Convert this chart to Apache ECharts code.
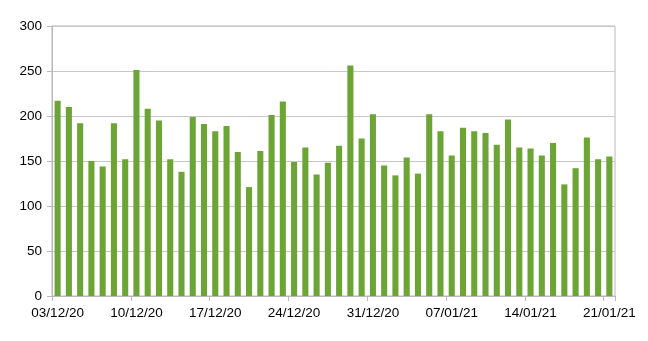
<!DOCTYPE html>
<html>
<head>
<meta charset="utf-8">
<script src="https://cdn.jsdelivr.net/npm/echarts@6/dist/echarts.min.js"></script>
<style>html,body{margin:0;padding:0;background:#fff}#c{width:648px;height:341px}</style>
</head>
<body>
<div id="c"></div>
<script>
const dates = (function(){
  const out = [];
  const d = new Date(Date.UTC(2020, 11, 3));
  for (let i = 0; i < 50; i++) {
    const dd = String(d.getUTCDate()).padStart(2,'0');
    const mm = String(d.getUTCMonth()+1).padStart(2,'0');
    const yy = String(d.getUTCFullYear()).slice(2);
    out.push(dd + '/' + mm + '/' + yy);
    d.setUTCDate(d.getUTCDate()+1);
  }
  return out;
})();
const values = [217,210,192,150,144,192,152,251,208,195,
                152,138,199,191,183,189,160,121,161,201,
                216,149,165,135,148,167,256,175,202,145,
                134,154,136,202,183,156,187,183,181,168,
                196,165,164,156,170,124,142,176,152,155];
const yTicks = [0,50,100,150,200,250,300];

const chart = echarts.init(document.getElementById('c'), null, {renderer:'canvas'});
chart.setOption({
  animation: false,
  grid: {left: 52, right: 33, top: 26, bottom: 45, show: true, borderColor: '#b8b8b8', borderWidth: 1},
  xAxis: {
    type: 'category',
    data: dates,
    boundaryGap: true,
    axisLine: {lineStyle: {color: '#b8b8b8', width: 1}},
    axisTick: {show: true, interval: 6, alignWithLabel: false, length: 5, lineStyle: {color: '#b8b8b8'}},
    axisLabel: {interval: 6, color: '#000', fontFamily: 'Liberation Sans', fontSize: 13.5, margin: 10},
    splitLine: {show: false}
  },
  yAxis: {
    type: 'value',
    min: yTicks[0], max: yTicks[yTicks.length-1], interval: 50,
    axisLine: {show: true, lineStyle: {color: '#b8b8b8', width: 1}},
    axisTick: {show: true, length: 5, lineStyle: {color: '#b8b8b8'}},
    axisLabel: {color: '#000', fontFamily: 'Liberation Sans', fontSize: 13.5, margin: 10},
    splitLine: {show: true, lineStyle: {color: '#c8c8c8', width: 1}}
  },
  series: [{
    type: 'bar',
    data: values,
    barWidth: '54%',
    itemStyle: {color: '#6ca535'}
  }]
});
</script>
</body>
</html>
